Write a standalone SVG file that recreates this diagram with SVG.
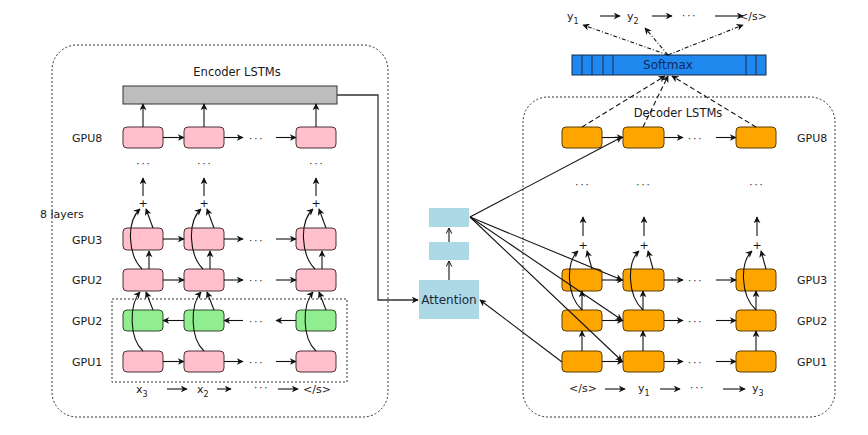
<svg xmlns="http://www.w3.org/2000/svg" width="868" height="435" viewBox="0 0 868 435">
<style>
text{font-family:"DejaVu Sans","Liberation Sans",sans-serif;font-size:11px;fill:#1a1a1a}
.c{text-anchor:middle}
.pink{fill:#ffc0cb;stroke:#4a3035;stroke-width:1}
.green{fill:#90ee90;stroke:#2d4a2d;stroke-width:1}
.orange{fill:#ffa500;stroke:#5a3c00;stroke-width:1}
.cont{fill:none;stroke:#333;stroke-width:1;stroke-dasharray:2,2}
.ln{fill:none;stroke:#111;stroke-width:1.1}
.a{marker-end:url(#ah)}
.dash{stroke-dasharray:5,3}
.dd{stroke-dasharray:4,2,1,2}
.att{fill:#add8e6}
.dots{font-size:10px;letter-spacing:2px}
.plus{font-size:11px;fill:#111}
</style>
<defs>
<marker id="ah" viewBox="0 0 10 10" refX="9" refY="5" markerWidth="7" markerHeight="7" orient="auto" markerUnits="userSpaceOnUse"><path d="M0,0 L10,5 L0,10 L3,5 z" fill="#111"/></marker>
<marker id="oh" viewBox="0 0 10 10" refX="9" refY="5" markerWidth="7" markerHeight="7" orient="auto" markerUnits="userSpaceOnUse"><path d="M1,1 L9,5 L1,9" fill="none" stroke="#111" stroke-width="1.4"/></marker>
</defs>

<!-- containers -->
<g id="encoder-container">
<rect class="cont" x="52" y="45" width="336" height="372" rx="25"/>
<text class="c" x="237" y="76" style="font-size:11.5px">Encoder LSTMs</text>
<text x="40" y="218">8 layers</text>
<rect class="cont" x="112" y="299" width="235" height="83" rx="0"/>
</g>
<g id="decoder-container">
<rect class="cont" x="523" y="97" width="312" height="320" rx="25"/>
<text class="c" x="678" y="117" style="font-size:11.5px">Decoder LSTMs</text>
</g>

<!-- encoder labels -->
<g id="enc-labels">
<text x="72" y="142">GPU8</text>
<text x="72" y="244">GPU3</text>
<text x="72" y="284">GPU2</text>
<text x="72" y="325">GPU2</text>
<text x="72" y="366">GPU1</text>
<text x="136" y="393">x<tspan font-size="8" dy="4">3</tspan></text>
<text x="197" y="393">x<tspan font-size="8" dy="4">2</tspan></text>
<text class="c" x="317" y="393">&lt;/s&gt;</text>
<text class="dots" x="254" y="391">···</text>
</g>

<!-- gray bar -->
<g id="enc-top">
<rect x="123" y="86" width="214" height="18" fill="#bdbdbd" stroke="#333" stroke-width="1"/>
</g>

<!-- encoder nodes -->
<g id="enc-gpu8">
<rect class="pink" x="123" y="127" width="40" height="21" rx="4"/>
<rect class="pink" x="184" y="127" width="40" height="21" rx="4"/>
<rect class="pink" x="296" y="127" width="40" height="21" rx="4"/>
</g>
<g id="enc-gpu3">
<rect class="pink" x="123" y="228" width="40" height="22" rx="4"/>
<rect class="pink" x="184" y="228" width="40" height="22" rx="4"/>
<rect class="pink" x="296" y="228" width="40" height="22" rx="4"/>
</g>
<g id="enc-gpu2">
<rect class="pink" x="123" y="269" width="40" height="22" rx="4"/>
<rect class="pink" x="184" y="269" width="40" height="22" rx="4"/>
<rect class="pink" x="296" y="269" width="40" height="22" rx="4"/>
</g>
<g id="enc-gpu2-back">
<rect class="green" x="123" y="310" width="40" height="21" rx="4"/>
<rect class="green" x="184" y="310" width="40" height="21" rx="4"/>
<rect class="green" x="296" y="310" width="40" height="21" rx="4"/>
</g>
<g id="enc-gpu1">
<rect class="pink" x="123" y="351" width="40" height="21" rx="4"/>
<rect class="pink" x="184" y="351" width="40" height="21" rx="4"/>
<rect class="pink" x="296" y="351" width="40" height="21" rx="4"/>
</g>

<!-- encoder plus/dots -->
<g id="enc-plus">
<text class="c plus" x="143" y="207">+</text>
<text class="c plus" x="204" y="207">+</text>
<text class="c plus" x="316" y="207">+</text>
<text class="c dots" x="144" y="167">···</text>
<text class="c dots" x="205" y="167">···</text>
<text class="c dots" x="317" y="167">···</text>
<text class="dots" x="249" y="142">···</text>
<text class="dots" x="249" y="244">···</text>
<text class="dots" x="249" y="284">···</text>
<text class="dots" x="249" y="325">···</text>
<text class="dots" x="249" y="366">···</text>
</g>

<!-- attention -->
<g id="attention">
<rect class="att" x="419" y="280" width="60" height="39"/>
<text class="c" x="449" y="304" style="font-size:12px;fill:#1a2a3a">Attention</text>
</g>
<g id="att-mid"><rect class="att" x="429" y="242" width="40" height="18"/></g>
<g id="att-top"><rect class="att" x="429" y="208" width="40" height="19"/></g>

<!-- softmax -->
<g id="softmax">
<rect x="572" y="55" width="194" height="20" fill="#1e88ee" stroke="#1a2a4a" stroke-width="1"/>
<path d="M582,55V75M592,55V75M603,55V75M613,55V75M746,55V75M756,55V75" stroke="#1a2a4a" stroke-width="1"/>
<text class="c" x="668" y="69" style="fill:#132a5c;font-size:12px">Softmax</text>
</g>

<!-- outputs -->
<g id="outputs">
<text x="567" y="20">y<tspan font-size="8" dy="4">1</tspan></text>
<text x="627" y="20">y<tspan font-size="8" dy="4">2</tspan></text>
<text class="c" x="753" y="20">&lt;/s&gt;</text>
<text class="dots" x="682" y="19">···</text>
</g>

<!-- decoder nodes -->
<g id="dec-gpu8">
<rect class="orange" x="562" y="127" width="40" height="21" rx="4"/>
<rect class="orange" x="623" y="127" width="41" height="21" rx="4"/>
<rect class="orange" x="736" y="127" width="40" height="21" rx="4"/>
</g>
<g id="dec-gpu3">
<rect class="orange" x="562" y="269" width="40" height="22" rx="4"/>
<rect class="orange" x="623" y="269" width="41" height="22" rx="4"/>
<rect class="orange" x="736" y="269" width="40" height="22" rx="4"/>
</g>
<g id="dec-gpu2">
<rect class="orange" x="562" y="310" width="40" height="21" rx="4"/>
<rect class="orange" x="623" y="310" width="41" height="21" rx="4"/>
<rect class="orange" x="736" y="310" width="40" height="21" rx="4"/>
</g>
<g id="dec-gpu1">
<rect class="orange" x="562" y="351" width="40" height="21" rx="4"/>
<rect class="orange" x="623" y="351" width="41" height="21" rx="4"/>
<rect class="orange" x="736" y="351" width="40" height="21" rx="4"/>
</g>
<g id="dec-labels">
<text x="797" y="142">GPU8</text>
<text x="797" y="284">GPU3</text>
<text x="797" y="325">GPU2</text>
<text x="797" y="366">GPU1</text>
<text class="c" x="583" y="392">&lt;/s&gt;</text>
<text x="638" y="392">y<tspan font-size="8" dy="4">1</tspan></text>
<text x="752" y="392">y<tspan font-size="8" dy="4">3</tspan></text>
<text class="dots" x="690" y="391">···</text>
<text class="c plus" x="583" y="249">+</text>
<text class="c plus" x="644" y="249">+</text>
<text class="c plus" x="757" y="249">+</text>
<text class="c dots" x="583" y="188">···</text>
<text class="c dots" x="644" y="188">···</text>
<text class="c dots" x="757" y="188">···</text>
<text class="dots" x="688" y="142">···</text>
<text class="dots" x="688" y="284">···</text>
<text class="dots" x="688" y="325">···</text>
<text class="dots" x="688" y="366">···</text>
</g>

<!-- connectors -->
<g id="connectors">
<!-- encoder horizontals -->
<path class="ln a" d="M163,137.5H184"/><path class="ln a" d="M224,137.5H243"/><path class="ln a" d="M276,137.5H296"/>
<path class="ln a" d="M163,239H184"/><path class="ln a" d="M224,239H243"/><path class="ln a" d="M276,239H296"/>
<path class="ln a" d="M163,280H184"/><path class="ln a" d="M224,280H243"/><path class="ln a" d="M276,280H296"/>
<path class="ln a" d="M184,320.5H163"/><path class="ln a" d="M243,320.5H224"/><path class="ln a" d="M296,320.5H276"/>
<path class="ln a" d="M163,361.5H184"/><path class="ln a" d="M224,361.5H243"/><path class="ln a" d="M276,361.5H296"/>
<!-- input arrows -->
<path class="ln a" d="M167,389H187"/><path class="ln a" d="M217,389H231"/><path class="ln a" d="M278,389H298"/>
<!-- encoder verticals -->
<path class="ln a" d="M143,127V104"/><path class="ln a" d="M204,127V104"/><path class="ln a" d="M316,127V104"/>
<path class="ln a" d="M143,196V178"/><path class="ln a" d="M204,196V178"/><path class="ln a" d="M316,196V178"/>
<path class="ln a" d="M143,351C129,338 129,305 140,292"/><path class="ln a" d="M153,310L146,292"/>
<path class="ln a" d="M149,269V251"/>
<path class="ln a" d="M142,269C128,255 126,222 140,209"/><path class="ln a" d="M153,228L146,209"/>
<path class="ln a" d="M204,351C190,338 190,305 201,292"/><path class="ln a" d="M214,310L207,292"/>
<path class="ln a" d="M210,269V251"/>
<path class="ln a" d="M203,269C189,255 187,222 201,209"/><path class="ln a" d="M214,228L207,209"/>
<path class="ln a" d="M316,351C302,338 302,305 313,292"/><path class="ln a" d="M326,310L319,292"/>
<path class="ln a" d="M322,269V251"/>
<path class="ln a" d="M315,269C301,255 299,222 313,209"/><path class="ln a" d="M326,228L319,209"/>
<!-- encoder to attention -->
<path class="a" d="M337,95H378V300H418" fill="none" stroke="#333" stroke-width="1.3"/>
<!-- attention stack -->
<path class="ln" d="M449,280V261" marker-end="url(#oh)"/>
<path class="ln" d="M449,242V228" marker-end="url(#oh)"/>
<!-- attention to decoder -->
<path class="ln a" d="M470,217L622,137"/>
<path class="ln a" d="M470,217L622,280"/>
<path class="ln a" d="M470,217L622,320"/>
<path class="ln a" d="M470,217L622,361"/>
<path class="ln a" d="M562,362L480,300"/>
<!-- decoder horizontals -->
<path class="ln a" d="M602,137.5H623"/><path class="ln a" d="M664,137.5H683"/><path class="ln a" d="M716,137.5H736"/>
<path class="ln a" d="M602,280H623"/><path class="ln a" d="M664,280H683"/><path class="ln a" d="M716,280H736"/>
<path class="ln a" d="M602,320.5H623"/><path class="ln a" d="M664,320.5H683"/><path class="ln a" d="M716,320.5H736"/>
<path class="ln a" d="M602,361.5H623"/><path class="ln a" d="M664,361.5H683"/><path class="ln a" d="M716,361.5H736"/>
<!-- decoder input arrows -->
<path class="ln a" d="M605,389H625"/><path class="ln a" d="M660,389H680"/><path class="ln a" d="M723,389H745"/>
<!-- decoder verticals -->
<path class="ln a" d="M582,351V331"/><path class="ln a" d="M582,310V291"/>
<path class="ln a" d="M582,310C566,295 566,262 578,251"/><path class="ln a" d="M592,269L587,251"/>
<path class="ln a" d="M583,236V217"/>
<path class="ln a" d="M643,351V331"/><path class="ln a" d="M643,310V291"/>
<path class="ln a" d="M643,310C627,295 627,262 639,251"/><path class="ln a" d="M653,269L648,251"/>
<path class="ln a" d="M644,236V217"/>
<path class="ln a" d="M756,351V331"/><path class="ln a" d="M756,310V291"/>
<path class="ln a" d="M756,310C740,295 740,262 752,251"/><path class="ln a" d="M766,269L761,251"/>
<path class="ln a" d="M757,236V217"/>
<!-- decoder to softmax -->
<path class="ln a dash" d="M582,127L665,76"/>
<path class="ln a dash" d="M643,127L668,76"/>
<path class="ln a dash" d="M756,127L672,76"/>
<!-- softmax to outputs -->
<path class="ln a dd" d="M668,55L583,25"/>
<path class="ln a dd" d="M668,55L645,28"/>
<path class="ln a dd" d="M668,55L743,25"/>
<!-- output arrows -->
<path class="ln a" d="M600,16H620"/><path class="ln a" d="M652,16H672"/><path class="ln a" d="M715,16H743"/>
</g>
</svg>
